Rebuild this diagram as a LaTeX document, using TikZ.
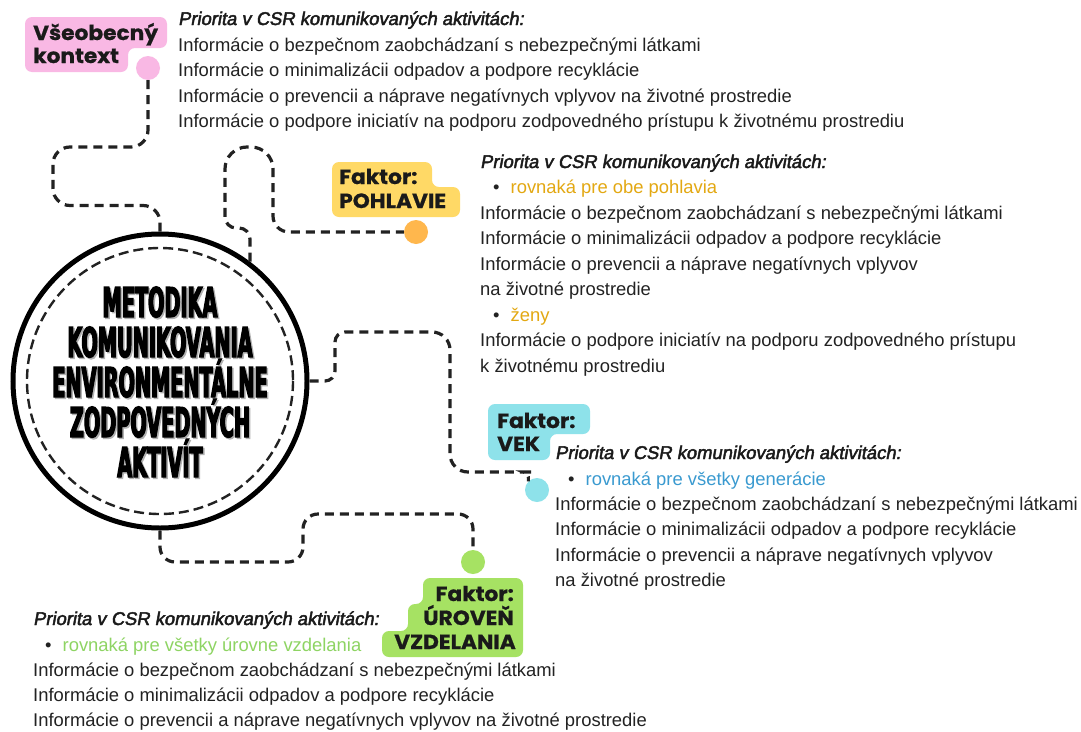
\documentclass[tikz,border=0pt]{standalone}
\usepackage{fontspec}
\setmainfont{Liberation Sans}
\newfontfamily\headfont[FakeBold=2.4,FakeSlant=0.18]{Liberation Sans}
\newfontfamily\tagfont[FakeStretch=1.06,FakeBold=0.8]{Poppins}
\newfontfamily\titlefont[FakeStretch=0.47,FakeBold=3]{DejaVu Sans}
\usetikzlibrary{calc}

\definecolor{ink}{HTML}{222222}
\definecolor{tagink}{HTML}{1A1A1A}
\definecolor{tagpink}{HTML}{F9B8E4}
\definecolor{tagyellow}{HTML}{FFD966}
\definecolor{dotorange}{HTML}{FFB74D}
\definecolor{tagcyan}{HTML}{8EE2EA}
\definecolor{taggreen}{HTML}{A6E263}
\definecolor{txtgold}{HTML}{E3A812}
\definecolor{txtblue}{HTML}{3A9AD0}
\definecolor{txtgreen}{HTML}{8ED463}

\tikzset{
  body/.style={anchor=base west, inner sep=0pt, text=ink, font=\fontsize{18.4}{22}\selectfont},
  head/.style={anchor=base west, inner sep=0pt, text=tagink, font=\headfont\fontsize{18.4}{22}\selectfont},
  tagtext/.style={anchor=base west, inner sep=0pt, text=tagink, font=\tagfont\bfseries\fontsize{20.5}{24}\selectfont},
  tagright/.style={tagtext, anchor=base east},
  titleline/.style={inner sep=0pt, anchor=base, text=black, font=\titlefont\bfseries\fontsize{41}{44}\selectfont},
  titleshadow/.style={titleline, text=black!30},
  conn/.style={draw=ink, line width=3.2pt, dash pattern=on 9pt off 6pt},
  dot/.style={circle, minimum size=24pt, inner sep=0pt},
}

\begin{document}
\begin{tikzpicture}[x=1pt,y=-1pt]
\useasboundingbox (0,0) rectangle (1081,731);
\fill[white] (0,0) rectangle (1081,731);

% ---- central circle ----
\node[circle, draw=black, line width=5pt, minimum size=294pt, inner sep=0pt] (mainc) at (160,381) {};
\draw[ink, line width=2.4pt, dash pattern=on 10pt off 5pt] (mainc.center) circle[radius=133];

\foreach \t/\y [count=\i] in {METODIKA/317, KOMUNIKOVANIA/357, ENVIRONMENTÁLNE/397, ZODPOVEDNÝCH/437, AKTIVÍT/477}{
  \node[titleshadow] (sh\i) at (161.5,\y+1.5) {\t};
  \node[titleline] (tl\i) at (160,\y) {\t};
}

% ---- tag backgrounds ----
\fill[tagpink, rounded corners=7pt] (25,17) -- (167,17) -- (167,48) -- (128,48) -- (128,72) -- (25,72) -- cycle;
\fill[tagyellow, rounded corners=7pt] (332,162) -- (432,162) -- (432,187) -- (460,187) -- (460,217) -- (332,217) -- cycle;
\fill[tagcyan, rounded corners=7pt] (488,404) -- (590,404) -- (590,434) -- (550,434) -- (550,460) -- (488,460) -- cycle;
\fill[taggreen, rounded corners=7pt] (423,578) -- (523,578) -- (523,657) -- (382,657) -- (382,631) -- (408,631) -- (408,604) -- (423,604) -- cycle;

% ---- tag texts ----
\node[tagtext] (kx1) at (33,40) {Všeobecný};
\node[tagtext] (kx2) at (33,63) {kontext};
\node[tagtext] (ph1) at (339,184) {Faktor:};
\node[tagtext] (ph2) at (339,208) {POHLAVIE};
\node[tagtext] (vk1) at (497,428) {Faktor:};
\node[tagtext] (vk2) at (497,451) {VEK};
\node[tagright] (uv1) at (514,601) {Faktor:};
\node[tagright] (uv2) at (514,625) {ÚROVEŇ};
\node[tagright] (uv3) at (516,649) {VZDELANIA};

% ---- end dots ----
\node[dot, fill=tagpink] (pdot) at (148,68) {};
\node[dot, fill=dotorange] (odot) at (416,232) {};
\node[dot, fill=tagcyan] (cdot) at (537,490) {};
\node[dot, fill=taggreen] (gdot) at (473,562) {};

% ---- connectors ----
\draw[conn, rounded corners=17pt] (pdot.south) |- (53,147) |- ($(mainc.north)+(0,-26)$) [rounded corners=9pt] -- (mainc.north);
\draw[conn, rounded corners=11pt] (mainc.53) |- (225,228) [rounded corners=22pt] |- (273,147) [rounded corners=16pt] |- (odot.west);
\draw[conn, rounded corners=10pt] (mainc.east) -| (335,332) [rounded corners=18pt] -| (450,472) -- (515,472) [rounded corners=5pt] -| (cdot.135);
\draw[conn, rounded corners=15pt] (mainc.south) |- (303,562) |- (473,514) -- (gdot.north);

% ---- general context ----
\node[head] (ta0) at (178,25) {Priorita v CSR komunikovaných aktivitách:};
\node[body] (ta1) at (178,51) {Informácie o bezpečnom zaobchádzaní s nebezpečnými látkami};
\node[body] (ta2) at (178,76) {Informácie o minimalizácii odpadov a podpore recyklácie};
\node[body] (ta3) at (178,102) {Informácie o prevencii a náprave negatívnych vplyvov na životné prostredie};
\node[body] (ta4) at (178,127) {Informácie o podpore iniciatív na podporu zodpovedného prístupu k životnému prostrediu};

% ---- gender ----
\node[head] (tb0) at (480,168) {Priorita v CSR komunikovaných aktivitách:};
\node[body] (tb1) at (493,193) {•\hspace{11pt}\textcolor{txtgold}{rovnaká pre obe pohlavia}};
\node[body] (tb2) at (480,219) {Informácie o bezpečnom zaobchádzaní s nebezpečnými látkami};
\node[body] (tb3) at (480,244) {Informácie o minimalizácii odpadov a podpore recyklácie};
\node[body] (tb4) at (480,270) {Informácie o prevencii a náprave negatívnych vplyvov};
\node[body] (tb5) at (480,295) {na životné prostredie};
\node[body] (tb6) at (493,321) {•\hspace{11pt}\textcolor{txtgold}{ženy}};
\node[body] (tb7) at (480,346) {Informácie o podpore iniciatív na podporu zodpovedného prístupu};
\node[body] (tb8) at (480,372) {k životnému prostrediu};

% ---- age ----
\node[head] (tc0) at (555,459) {Priorita v CSR komunikovaných aktivitách:};
\node[body] (tc1) at (568,485) {•\hspace{11pt}\textcolor{txtblue}{rovnaká pre všetky generácie}};
\node[body] (tc2) at (555,510) {Informácie o bezpečnom zaobchádzaní s nebezpečnými látkami};
\node[body] (tc3) at (555,535) {Informácie o minimalizácii odpadov a podpore recyklácie};
\node[body] (tc4) at (555,561) {Informácie o prevencii a náprave negatívnych vplyvov};
\node[body] (tc5) at (555,586) {na životné prostredie};

% ---- education ----
\node[head] (td0) at (33,625) {Priorita v CSR komunikovaných aktivitách:};
\node[body] (td1) at (45,651) {•\hspace{11pt}\textcolor{txtgreen}{rovnaká pre všetky úrovne vzdelania}};
\node[body] (td2) at (33,676) {Informácie o bezpečnom zaobchádzaní s nebezpečnými látkami};
\node[body] (td3) at (33,701) {Informácie o minimalizácii odpadov a podpore recyklácie};
\node[body] (td4) at (33,726) {Informácie o prevencii a náprave negatívnych vplyvov na životné prostredie};
\end{tikzpicture}
\end{document}
